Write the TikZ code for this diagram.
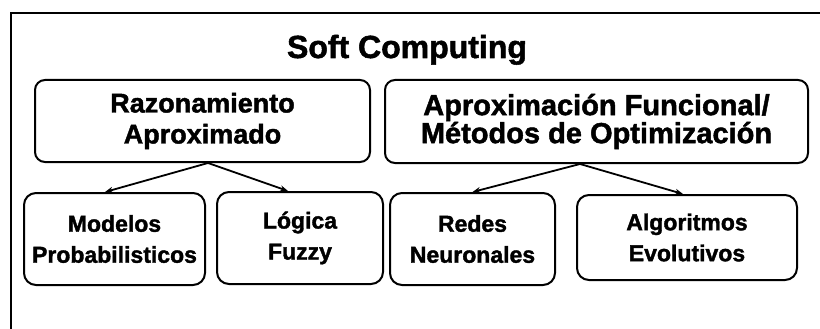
\documentclass[tikz,border=0pt]{standalone}
\usepackage{fontspec}
\setmainfont{Liberation Sans}[BoldFeatures={FakeBold=1.6}]
\usetikzlibrary{arrows.meta}
\begin{document}
\begin{tikzpicture}[x=1pt, y=-1pt,
    box/.style={draw, line width=2pt, rounded corners=10pt, inner sep=0pt, align=center},
    topbox/.style={box, font=\bfseries\fontsize{27}{31}\selectfont},
    leafbox/.style={box, rounded corners=12pt, font=\bfseries\fontsize{23}{31}\selectfont},
    link/.style={-{Stealth[length=8pt, width=6pt]}, line width=1.8pt}]

	% Page and outer frame (cut by the page edge)
	\clip (0,0) rectangle (820,329);
	\draw[line width=2pt] (11,13) rectangle (840,350);

	% Title
	\node[anchor=base, font=\bfseries\fontsize{32}{36}\selectfont] (title) at (407,58) {Soft Computing};

	% Upper boxes
	\node[topbox, minimum width=335, minimum height=82] (razon) at (202.5,121) {Razonamiento\\Aproximado};
	\node[topbox, font=\bfseries\fontsize{29}{28}\selectfont, minimum width=423, minimum height=83] (aprox) at (596.5,121.5) {Aproximación Funcional/\\Métodos de Optimización};

	% Lower boxes
	\node[leafbox, minimum width=181, minimum height=92] (modelos) at (114.5,239) {Modelos\\Probabilisticos};
	\node[leafbox, minimum width=166, minimum height=92] (logica) at (300,238) {Lógica\\Fuzzy};
	\node[leafbox, minimum width=165, minimum height=92] (redes) at (472.5,239) {Redes\\Neuronales};
	\node[leafbox, minimum width=220, minimum height=85] (algo) at (687,237.5) {Algoritmos\\Evolutivos};

	% Arrows from the upper boxes to the lower ones
	\draw[link] ([xshift=5.5pt]razon.south) -- ([xshift=-9.5pt]modelos.north);
	\draw[link] ([xshift=5.5pt]razon.south) -- ([xshift=-12pt]logica.north);
	\draw[link] ([xshift=-16.5pt]aprox.south) -- (redes.north);
	\draw[link] ([xshift=-16.5pt]aprox.south) -- ([xshift=-4pt]algo.north);

\end{tikzpicture}
\end{document}
